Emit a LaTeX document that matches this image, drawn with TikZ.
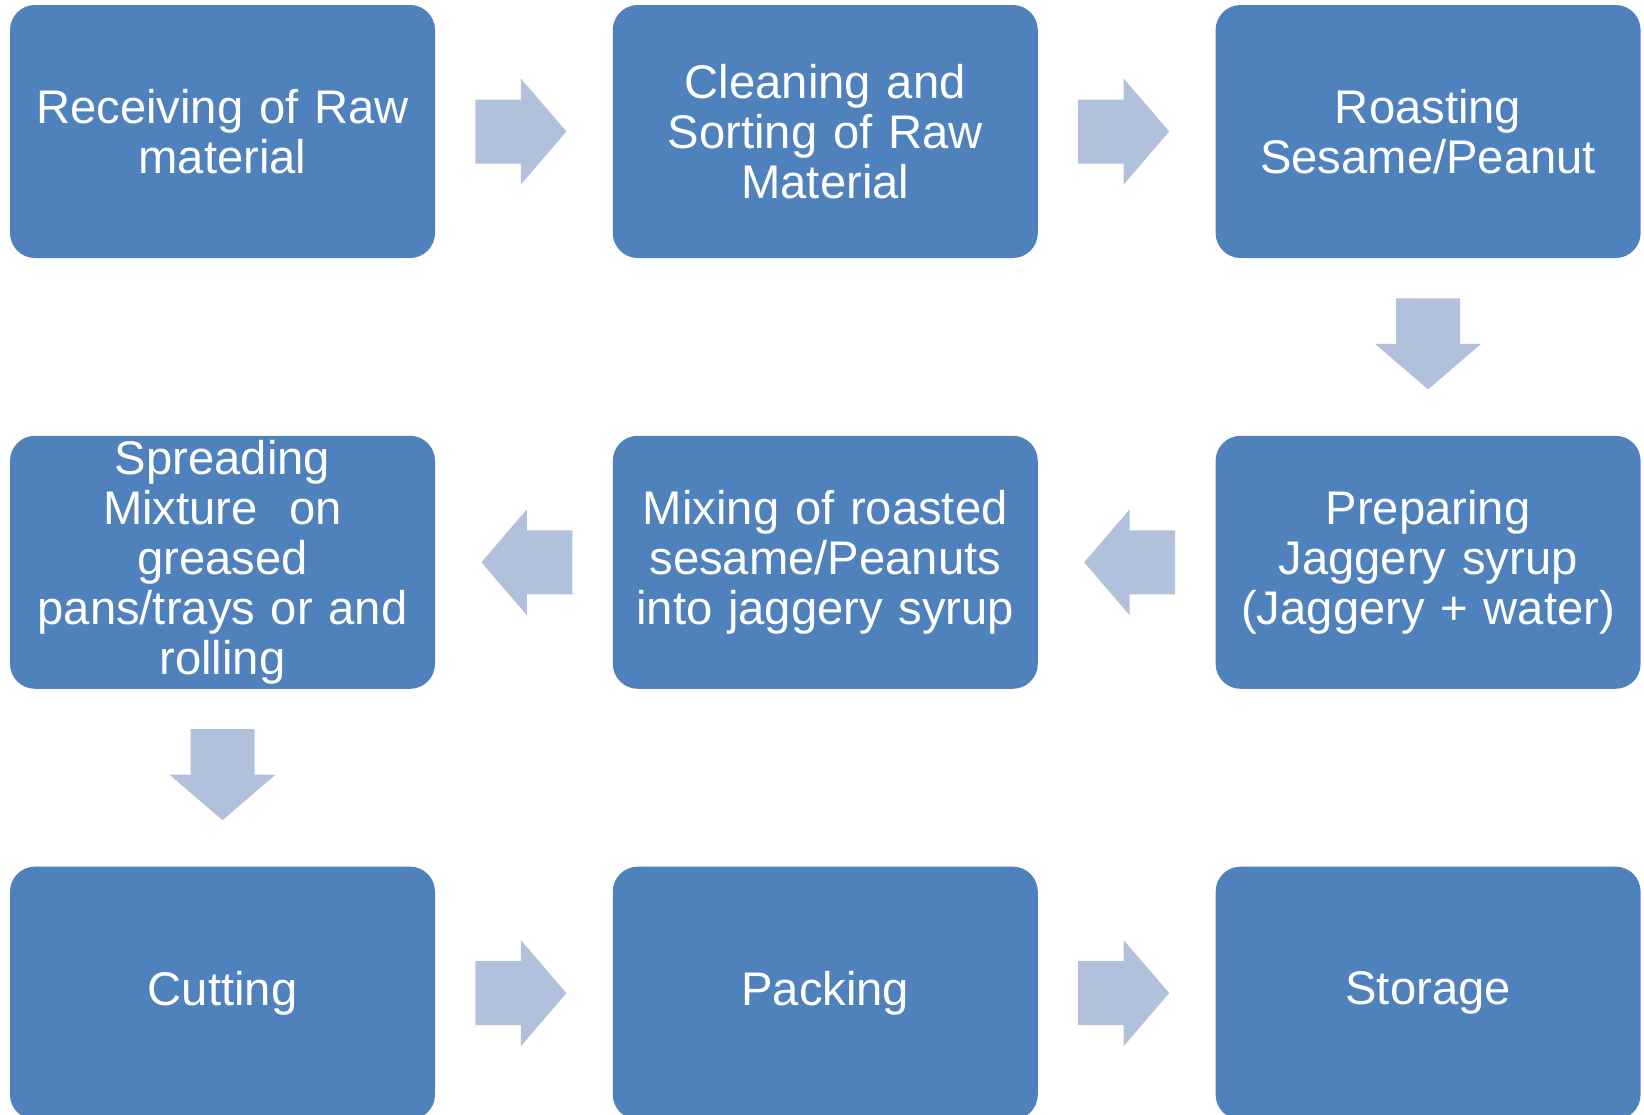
\documentclass[tikz,border=0pt]{standalone}
\usepackage{fontspec}
\setmainfont{Liberation Sans}
\usetikzlibrary{positioning, calc}
\definecolor{stepblue}{HTML}{4F81BD}
\definecolor{flowfill}{HTML}{B2C1DB}

\begin{document}
\begin{tikzpicture}[
    x=1pt, y=1pt,
    node distance=88.5pt,
    stepbox/.style={
        fill=stepblue,
        rounded corners=12.5pt,
        minimum width=212.5pt, minimum height=126.5pt,
        text width=205pt, align=center,
        inner sep=0pt,
        text=white,
        font=\fontsize{23.6}{25}\selectfont
    },
    flow/.pic={
        \fill[flowfill] (-24.25,-16) -- (-1.5,-16) -- (-1.5,-26.5) -- (21.25,0)
            -- (-1.5,26.5) -- (-1.5,16) -- (-24.25,16) -- cycle;
    }
]
\useasboundingbox (0,0) rectangle (822,-557);
\clip (0,0) rectangle (822,-557);

% Nodes
\node[stepbox] (receive) at (111.25,-65.75) {Receiving of Raw\\material};
\node[stepbox, right=of receive] (clean) {Cleaning and\\Sorting of Raw\\Material};
\node[stepbox, right=of clean] (roast) {Roasting\\Sesame/Peanut};

\node[stepbox, below=of roast] (syrup) {Preparing\\Jaggery syrup\\(Jaggery + water)};
\node[stepbox, left=of syrup] (mix) {Mixing of roasted\\sesame/Peanuts\\into jaggery syrup};
\node[stepbox, left=of mix] (spread) {Spreading\\Mixture\ \ on\\greased\\pans/trays or and\\rolling};

\node[stepbox, below=of spread] (cut) {Cutting};
\node[stepbox, right=of cut] (pack) {Packing};
\node[stepbox, right=of pack] (store) {Storage};

% Arrows
\pic at ($(receive.east)!0.5!(clean.west)$) {flow};
\pic at ($(clean.east)!0.5!(roast.west)$) {flow};
\pic[rotate=-90] at ($(roast.south)!0.5!(syrup.north)$) {flow};
\pic[rotate=180] at ($(syrup.west)!0.5!(mix.east)$) {flow};
\pic[rotate=180] at ($(mix.west)!0.5!(spread.east)$) {flow};
\pic[rotate=-90] at ($(spread.south)!0.5!(cut.north)$) {flow};
\pic at ($(cut.east)!0.5!(pack.west)$) {flow};
\pic at ($(pack.east)!0.5!(store.west)$) {flow};

\end{tikzpicture}
\end{document}
